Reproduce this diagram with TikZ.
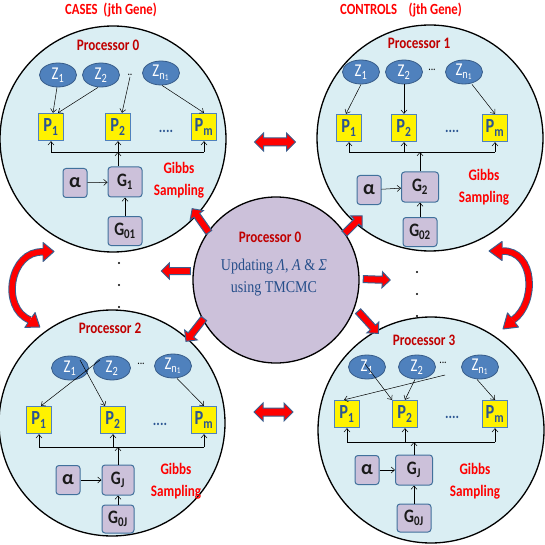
\documentclass[tikz,border=0pt]{standalone}
\usepackage{fontspec}
\setmainfont{Carlito}[FakeStretch=0.82]
\newfontfamily\alfont{Carlito}
\newfontfamily\camfont{Liberation Serif}[FakeStretch=0.85]
\usetikzlibrary{shapes.geometric,shapes.arrows,arrows.meta}
\definecolor{cblue}{HTML}{DAEEF3}
\definecolor{clav}{HTML}{CCC1DA}
\definecolor{zblue}{HTML}{4F81BD}
\definecolor{zbord}{HTML}{385D8A}
\definecolor{pbord}{HTML}{4F81BD}
\definecolor{ptext}{HTML}{2B5592}
\definecolor{gbord}{HTML}{41719C}
\definecolor{gtext}{HTML}{1A1A1A}
\definecolor{dred}{HTML}{C00000}
\definecolor{bred}{HTML}{FF0000}
\definecolor{arrbd}{HTML}{3A5F8F}
\definecolor{ctext}{HTML}{254E8A}
\begin{document}
\begin{tikzpicture}[x=1pt,y=-1pt,
  bigcirc/.style={circle, draw=black, line width=1.3pt, fill=cblue, minimum size=226pt, inner sep=0pt},
  midcirc/.style={circle, draw=black, line width=1.3pt, fill=clav, minimum size=166pt, inner sep=0pt},
  title/.style={text=bred, font=\bfseries\fontsize{15.5}{17}\selectfont},
  proc/.style={text=dred, font=\bfseries\fontsize{16}{18}\selectfont},
  gibbs/.style={text=bred, align=center, font=\bfseries\fontsize{16}{22}\selectfont},
  zell/.style={ellipse, fill=zblue, draw=zbord, line width=0.8pt, minimum width=37pt, minimum height=24pt, inner sep=0pt, text=white, font=\fontsize{18}{18}\selectfont},
  pbox/.style={rectangle, fill=yellow, draw=pbord, line width=1.3pt, minimum width=25pt, minimum height=27pt, inner sep=0pt, text=ptext, font=\bfseries\fontsize{20}{20}\selectfont},
  gbox/.style={rectangle, rounded corners=3pt, fill=clav, draw=gbord, line width=1pt, minimum width=34pt, minimum height=30pt, inner sep=0pt, text=gtext, font=\bfseries\fontsize{19}{19}\selectfont},
  abox/.style={gbox, minimum width=24pt, minimum height=29pt, font=\alfont\bfseries\fontsize{20}{20}\selectfont},
  pdots/.style={text=ptext, font=\bfseries\fontsize{16}{16}\selectfont},
  zdots/.style={text=black, font=\fontsize{12}{12}\selectfont, inner sep=1pt},
  conn/.style={-{Straight Barb[length=3.5pt,width=6pt]}, line width=0.5pt, draw=black},
  bus/.style={line width=0.5pt, draw=black},
  barrow/.style={single arrow, fill=red, draw=arrbd, line width=1pt, inner xsep=0pt, inner ysep=3pt, minimum width=15pt, single arrow head extend=4.5pt},
  darrow/.style={double arrow, fill=red, draw=arrbd, line width=1pt, inner xsep=0pt, inner ysep=3.5pt, minimum width=17pt, double arrow head extend=5pt},
  bigdot/.style={circle, fill=black, inner sep=0pt, minimum size=2.4pt}
]
\useasboundingbox (0,0) rectangle (545,545);

% circles
\node[bigcirc] (C0) at (113,139) {};
\node[bigcirc] (C1) at (430,138) {};
\node[bigcirc] (C2) at (112,423) {};
\node[bigcirc] (C3) at (431,430) {};
\node[midcirc] (CC) at (276,280) {};

% titles
\node[title] (t0) at (111,10) {CASES\ \ (jth Gene)};
\node[title] (t1) at (401,10) {CONTROLS\ \ \ \ (jth Gene)};

% ---------- Circle 0 ----------
\node[proc] (l0) at (108,45) {Processor 0};
\node[zell] (z01) at (58,75) {Z\textsubscript{1}};
\node[zell] (z02) at (101,75) {Z\textsubscript{2}};
\node[zdots] (d0) at (130,75) {..};
\node[zell] (z0n) at (161,73) {Z\textsubscript{n\textsubscript{1}}};
\node[pbox] (p01) at (51,127) {P\textsubscript{1}};
\node[pbox] (p02) at (118,127) {P\textsubscript{2}};
\node[pdots] (pd0) at (166,131) {....};
\node[pbox] (p0m) at (204,127) {P\textsubscript{m}};
\node[abox] (a0) at (75,183) {α};
\node[gbox] (g0) at (125,182) {G\textsubscript{1}};
\node[gbox, minimum height=29pt] (gg0) at (125,231) {G\textsubscript{01}};
\node[gibbs] (s0) at (179,180) {Gibbs\\Sampling};
\coordinate (b0a) at (51,152);
\coordinate (b0b) at (204,152);
\draw[bus] (b0a) -- (b0b);
\draw[conn] (b0a) -- (p01.south);
\draw[conn] (b0a -| p02) -- (p02.south);
\draw[conn] (b0b) -- (p0m.south);
\draw[conn] (g0.north -| p02) -- (b0a -| p02);
\draw[conn] (a0) -- (g0);
\draw[conn] (gg0) -- (g0);
\draw[conn] ([xshift=-1pt]z01.south) -- ([xshift=2pt]p01.north);
\draw[conn] ([xshift=-3pt]z02.south) -- ([xshift=7pt]p01.north);
\draw[conn] (d0.south) -- ([xshift=4pt]p02.north);
\draw[conn] ([xshift=1pt]z0n.south) -- (p0m.north);

% ---------- Circle 1 ----------
\node[proc] (l1) at (419,43) {Processor 1};
\node[zell] (z11) at (361,72) {Z\textsubscript{1}};
\node[zell] (z12) at (404,72) {Z\textsubscript{2}};
\node[zdots] (d1) at (432,70) {...};
\node[zell] (z1n) at (464,72) {Z\textsubscript{n\textsubscript{1}}};
\node[pbox] (p11) at (349,128) {P\textsubscript{1}};
\node[pbox] (p12) at (404,128) {P\textsubscript{2}};
\node[pdots] (pd1) at (452,131) {....};
\node[pbox] (p1m) at (495,128) {P\textsubscript{m}};
\node[abox] (a1) at (369,190) {α};
\node[gbox, minimum width=37pt] (g1) at (420,187) {G\textsubscript{2}};
\node[gbox, minimum height=29pt] (gg1) at (420,232) {G\textsubscript{02}};
\node[gibbs] (s1) at (484,187) {Gibbs\\Sampling};
\coordinate (b1a) at (349,152);
\coordinate (b1b) at (495,152);
\draw[bus] (b1a) -- (b1b);
\draw[conn] (b1a) -- (p11.south);
\draw[conn] (b1a -| p12) -- (p12.south);
\draw[conn] (b1b) -- (p1m.south);
\draw[conn] (g1.north) -- (b1a -| g1);
\draw[conn] (a1) -- (g1);
\draw[conn] (gg1) -- (g1);
\draw[conn] (z11.south) -- ([xshift=-3pt]p11.north);
\draw[conn] (z12.south) -- (p12.north);
\draw[conn] ([xshift=8pt]z1n.south) -- (p1m.north);

% ---------- Circle 2 ----------
\node[proc] (l2) at (110,328) {Processor 2};
\node[zell] (z21) at (70,368) {Z\textsubscript{1}};
\node[zell] (z22) at (112,368) {Z\textsubscript{2}};
\node[zdots] (d2) at (141,364) {...};
\node[zell] (z2n) at (173,366) {Z\textsubscript{n\textsubscript{1}}};
\node[pbox] (p21) at (39,420) {P\textsubscript{1}};
\node[pbox] (p22) at (113,420) {P\textsubscript{2}};
\node[pdots] (pd2) at (160,424) {....};
\node[pbox] (p2m) at (204,420) {P\textsubscript{m}};
\node[abox] (a2) at (68,480) {α};
\node[gbox, minimum width=32pt] (g2) at (118,480) {G\textsubscript{J}};
\node[gbox, minimum width=32pt, minimum height=28pt] (gg2) at (118,519) {G\textsubscript{0J}};
\node[gibbs] (s2) at (176,481) {Gibbs\\Sampling};
\coordinate (b2a) at (39,447);
\coordinate (b2b) at (204,447);
\draw[bus] (b2a) -- (b2b);
\draw[conn] (b2a) -- (p21.south);
\draw[conn] (b2a -| p22) -- (p22.south);
\draw[conn] (b2b) -- (p2m.south);
\draw[conn] (g2.north) -- (b2a -| g2);
\draw[conn] (a2) -- (g2);
\draw[conn] (gg2) -- (g2);
\draw[conn] ([xshift=10pt,yshift=8pt]z21.center) -- ([xshift=-8pt]p22.north);
\draw[conn] ([xshift=-12pt,yshift=8pt]z22.center) -- ([xshift=2pt]p21.north);
\draw[conn] ([xshift=4pt]z2n.south) -- (p2m.north);

% ---------- Circle 3 ----------
\node[proc] (l3) at (424,340) {Processor 3};
\node[zell] (z31) at (367,367) {Z\textsubscript{1}};
\node[zell] (z32) at (417,367) {Z\textsubscript{2}};
\node[zdots] (d3) at (443,363) {...};
\node[zell] (z3n) at (480,367) {Z\textsubscript{n\textsubscript{1}}};
\node[pbox] (p31) at (347,414) {P\textsubscript{1}};
\node[pbox] (p32) at (405,414) {P\textsubscript{2}};
\node[pdots] (pd3) at (452,417) {....};
\node[pbox] (p3m) at (495,414) {P\textsubscript{m}};
\node[abox] (a3) at (367,470) {α};
\node[gbox, minimum width=37pt] (g3) at (414,470) {G\textsubscript{J}};
\node[gbox, minimum height=28pt] (gg3) at (414,518) {G\textsubscript{0J}};
\node[gibbs] (s3) at (475,481) {Gibbs\\Sampling};
\coordinate (b3a) at (347,442);
\coordinate (b3b) at (495,442);
\coordinate (d3s) at (445,375);
\draw[bus] (b3a) -- (b3b);
\draw[conn] (b3a) -- (p31.south);
\draw[conn] (b3a -| p32) -- (p32.south);
\draw[conn] (b3b) -- (p3m.south);
\draw[conn] (g3.north) -- (b3a -| g3);
\draw[conn] (a3) -- (g3);
\draw[conn] (gg3) -- (g3);
\draw[conn] ([xshift=-2pt,yshift=3pt]z31.center) -- ([xshift=-13pt]p32.north);
\draw[conn] ([xshift=-2pt]z32.south) -- (p32.north);
\draw[conn] (d3s) -- ([xshift=-3pt]p31.north);
\draw[conn] ([xshift=-3pt]z3n.south) -- (p3m.north);

% ---------- centre ----------
\node[proc] (lc) at (270,237) {Processor 0};
\node[text=ctext, font=\camfont\fontsize{16.5}{22}\selectfont, align=center] (uc) at (274,278)
  {Updating \textit{Λ}, \textit{Α} \& \textit{Σ}\\using TMCMC};

% block arrows from centre
\node[barrow, minimum height=29pt, rotate=125] (ar1) at (201.5,222) {};
\node[barrow, minimum height=25pt, rotate=45] (ar2) at (352,226) {};
\node[barrow, minimum height=29pt, rotate=180] (ar3) at (177.5,271) {};
\node[barrow, minimum height=27pt, rotate=-2] (ar4) at (375,279.5) {};
\node[barrow, minimum height=29pt, rotate=232] (ar5) at (196,328.5) {};
\node[barrow, minimum height=30pt, rotate=-47.7] (ar6) at (367,321) {};

% double arrows between circles
\node[darrow, minimum height=41pt] (dt) at (275,142) {};
\node[darrow, minimum height=39pt] (db) at (273.5,412) {};

% curved double arrows
\draw[line width=7.5pt, draw=arrbd] (43,252) .. controls (10,250) and (0,308) .. (30,320);
\draw[line width=5.5pt, draw=red] (43,252) .. controls (10,250) and (0,308) .. (30,320);
\fill[red] (43,242.5) -- (54,251.5) -- (43,261.5) -- cycle;
\draw[arrbd, line width=1pt, line join=round] (43,248.2) -- (43,242.5) -- (54,251.5) -- (43,261.5) -- (43,255.8);
\fill[red] (35.1,312.6) -- (39.8,327) -- (24.9,327.4) -- cycle;
\draw[arrbd, line width=1pt, line join=round] (32.1,316.9) -- (35.1,312.6) -- (39.8,327) -- (24.9,327.4) -- (27.9,323.1);

\draw[line width=7.5pt, draw=arrbd] (502,251) .. controls (535,250) and (537,303) .. (513,320);
\draw[line width=5.5pt, draw=red] (502,251) .. controls (535,250) and (537,303) .. (513,320);
\fill[red] (502,241.5) -- (489,251) -- (502,260.5) -- cycle;
\draw[arrbd, line width=1pt, line join=round] (502,247.2) -- (502,241.5) -- (489,251) -- (502,260.5) -- (502,254.8);
\fill[red] (518.5,327.1) -- (503,329) -- (507.5,312.9) -- cycle;
\draw[arrbd, line width=1pt, line join=round] (515.3,323.0) -- (518.5,327.1) -- (503,329) -- (507.5,312.9) -- (510.7,317.0);

% vertical dots
\node[bigdot] (vl1) at (119,263) {};
\node[bigdot] (vl2) at (119,285) {};
\node[bigdot] (vl3) at (119,307) {};
\node[bigdot] (vr1) at (417,272) {};
\node[bigdot] (vr2) at (417,294) {};
\node[bigdot] (vr3) at (417,316) {};
\end{tikzpicture}
\end{document}
